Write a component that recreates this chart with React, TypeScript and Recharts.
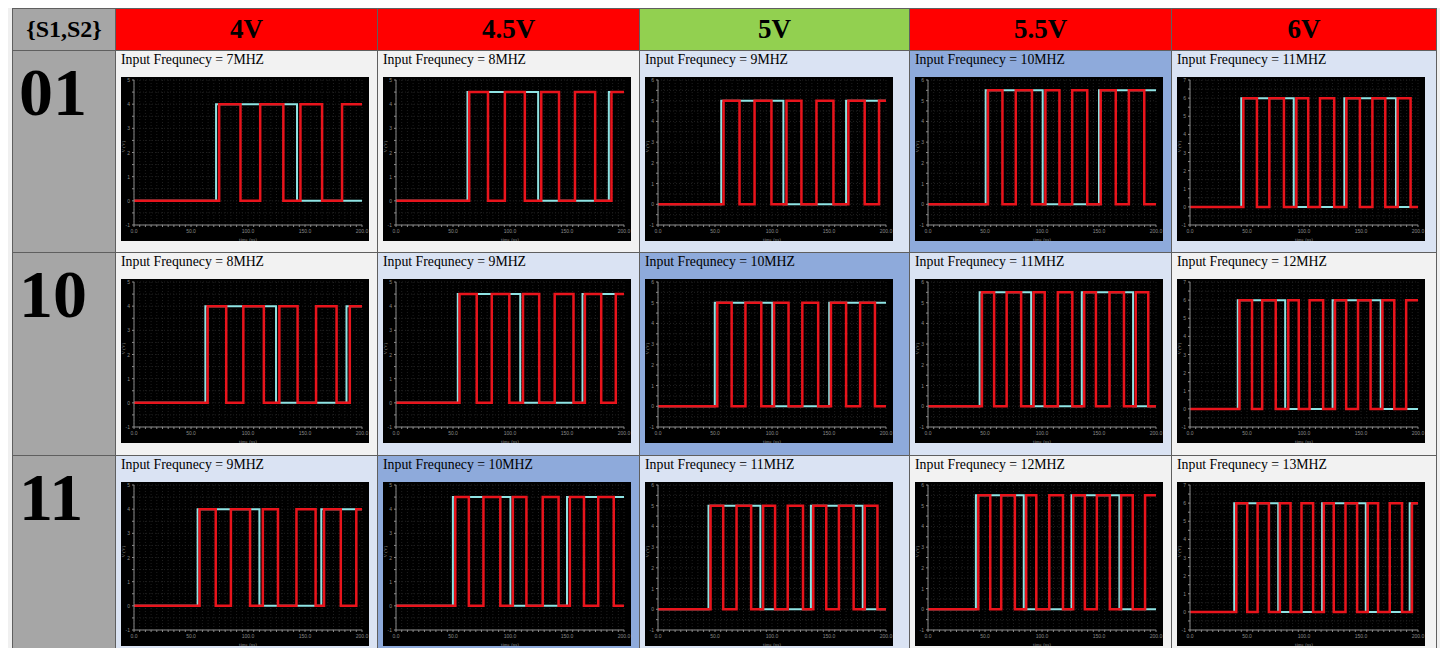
import { CartesianGrid, Line, LineChart, XAxis, YAxis } from 'recharts'

const voltages = ['4V', '4.5V', '5V', '5.5V', '6V']
const highLevels = [4, 4.5, 5, 5.5, 6]
const yTops = [5, 5, 6, 6, 7]
const headerColors = ['#ff0000', '#ff0000', '#92d050', '#ff0000', '#ff0000']
const selectCodes = ['01', '10', '11']
const frequencies = [
  [7, 8, 9, 10, 11],
  [8, 9, 10, 11, 12],
  [9, 10, 11, 12, 13],
]

const xTicks = [0, 5, 10, 15, 20, 25, 30, 35, 40, 45, 50, 55, 60, 65, 70, 75, 80, 85, 90, 95, 100,
  105, 110, 115, 120, 125, 130, 135, 140, 145, 150, 155, 160, 165, 170, 175, 180, 185, 190, 195, 200]
const yTicks5 = [-1, -0.5, 0, 0.5, 1, 1.5, 2, 2.5, 3, 3.5, 4, 4.5, 5]
const yTicks6 = [-1, -0.5, 0, 0.5, 1, 1.5, 2, 2.5, 3, 3.5, 4, 4.5, 5, 5.5, 6]
const yTicks7 = [-1, -0.5, 0, 0.5, 1, 1.5, 2, 2.5, 3, 3.5, 4, 4.5, 5, 5.5, 6, 6.5, 7]

// times (ns) where each trace toggles, both start low
const inputEdges01 = [
  [72, 143],
  [62.7, 124.7, 186.7],
  [55.5, 110, 165],
  [50.6, 100.6, 150],
  [45, 91, 135.4, 180.7],
]
const outputEdges01 = [
  [74.7, 93.4, 110.7, 131, 146, 165, 182.5],
  [64.2, 80.7, 95.5, 113, 127.4, 143, 157, 174.7, 189],
  [57.5, 71.5, 84.7, 99.5, 112.7, 125.8, 139, 153.9, 167, 181.3, 193.9],
  [52.6, 65.3, 77, 91.2, 103, 115.3, 126.5, 139.7, 151.5, 164.7, 176.2, 189.7],
  [46.8, 58.7, 69.6, 82.4, 93.3, 103.7, 114, 126.5, 137.2, 149, 160, 171.3, 182.2, 193.5],
]
const inputEdges10 = [
  [62.6, 124.6, 186.4],
  [54.2, 109, 163.6],
  [49.8, 100.3, 150.2],
  [45.3, 90.5, 134.9, 179.9],
  [41.9, 83.5, 125.1, 167.3],
]
const outputEdges10 = [
  [64.6, 80.9, 95.9, 113.9, 127.5, 143.5, 159.7, 177.7, 189.3],
  [55.7, 70.8, 84, 99.4, 111.4, 125.6, 139.2, 155.7, 165.7, 180, 192.8],
  [52, 64.6, 76.7, 90.6, 101.8, 114.5, 126.6, 140.5, 151.7, 165, 177.3, 190.3],
  [47.3, 58, 69, 81.7, 92.6, 102.4, 113.9, 126.6, 137, 147.3, 159.2, 171.9, 182.2, 193.2],
  [43.4, 54.4, 63.3, 75.2, 86.2, 95.4, 104.9, 116.8, 127.2, 137, 147.4, 158.4, 168.8, 179.2, 189.6],
]
const inputEdges11 = [
  [55.8, 110, 164.3],
  [49.9, 100.4, 150],
  [44.3, 89.8, 134.1, 179.6],
  [42, 84, 125.9, 167.9],
  [38.8, 77.4, 115.9, 154.2, 192.7],
]
const outputEdges11 = [
  [57.5, 71.7, 85, 101.8, 113, 126.3, 142.5, 159.3, 166.7, 181.4, 195],
  [52, 63.9, 76.7, 91.5, 102.5, 114.4, 128.7, 142.6, 152.5, 164.9, 177.4, 191],
  [46.1, 57.2, 68.9, 81.7, 92.2, 102.7, 113.8, 127.2, 136.2, 147.6, 158.7, 171.6, 181.4, 192.5],
  [44.1, 54.6, 64.2, 76.2, 86.1, 95, 106.4, 118.4, 127.4, 137.6, 148.1, 159.5, 169.4, 179.6, 190.4],
  [40.6, 50.2, 59.3, 69.2, 78.8, 88.2, 97.8, 108, 117.4, 126.1, 136.4, 146.6, 155.9, 165, 175.2, 186, 194.7],
]

const inputEdges = [inputEdges01, inputEdges10, inputEdges11]
const outputEdges = [outputEdges01, outputEdges10, outputEdges11]

const serif = '"Liberation Serif", "Times New Roman", serif'

function toSteps(edges: number[], level: number) {
  const pts = [{ t: 0, v: 0 }]
  let v = 0
  edges.forEach((e) => {
    v = v ? 0 : level
    pts.push({ t: e, v })
  })
  pts.push({ t: 200, v })
  return pts
}

function cellColor(f: number) {
  if (f === 10) return '#8eaadb'
  if (f === 9 || f === 11) return '#dae3f3'
  return '#f2f2f2'
}

function XTick(props: any) {
  const { x, y, payload } = props
  if (payload.value % 50 !== 0) return <g />
  return (
    <text x={x} y={y + 4} fontSize={5} fill="#8a8a8a" textAnchor="middle" fontFamily="Liberation Sans, sans-serif">
      {payload.value.toFixed(1)}
    </text>
  )
}

function YTick(props: any) {
  const { x, y, payload } = props
  if (!Number.isInteger(payload.value)) return <g />
  return (
    <text x={x} y={y + 2} fontSize={5} fill="#8a8a8a" textAnchor="end" fontFamily="Liberation Sans, sans-serif">
      {payload.value}
    </text>
  )
}

function Scope({ input, output, level, top }: { input: number[], output: number[], level: number, top: number }) {
  const yTicks = top === 5 ? yTicks5 : top === 6 ? yTicks6 : yTicks7
  return (
    <LineChart width={248} height={164} margin={{ top: 3, right: 7, bottom: 0, left: 0 }} style={{ background: '#000' }}>
      <CartesianGrid stroke="#1f1f1f" strokeDasharray="1 2" />
      <XAxis
        type="number"
        dataKey="t"
        domain={[0, 200]}
        ticks={xTicks}
        interval={0}
        height={16}
        tickSize={2}
        stroke="#8a8a8a"
        tick={<XTick />}
        label={{ value: 'time (ns)', position: 'insideBottom', offset: 0, fontSize: 5, fill: '#8a8a8a' }}
      />
      <YAxis
        type="number"
        dataKey="v"
        domain={[-1, top]}
        ticks={yTicks}
        interval={0}
        width={13}
        tickSize={2}
        stroke="#8a8a8a"
        tick={<YTick />}
        label={{ value: 'V (V)', angle: -90, position: 'insideLeft', offset: 2, fontSize: 5, fill: '#8a8a8a' }}
      />
      <Line
        data={toSteps(input, level)}
        dataKey="v"
        type="stepAfter"
        stroke="#8fe3e3"
        strokeWidth={2}
        dot={false}
        isAnimationActive={false}
      />
      <Line
        data={toSteps(output, level)}
        dataKey="v"
        type="stepAfter"
        stroke="#e8141c"
        strokeWidth={2.5}
        dot={false}
        isAnimationActive={false}
      />
    </LineChart>
  )
}

export default function App() {
  return (
    <div style={{ margin: -8, width: 1448, height: 656, overflow: 'hidden', background: '#f0f0f0', position: 'relative' }}>
      <div
        style={{
          position: 'absolute',
          left: 12,
          top: 8,
          display: 'grid',
          gridTemplateColumns: '102px 261px 261px 269px 261px 264px',
          gridTemplateRows: '41px 201px 202px 202px',
          gap: 1,
          padding: 1,
          background: '#5f5f5f',
          fontFamily: serif,
        }}
      >
        <div style={{ background: '#a6a6a6', fontSize: 24, fontWeight: 'bold', display: 'flex', alignItems: 'center', justifyContent: 'center' }}>
          {'{S1,S2}'}
        </div>
        {voltages.map((v, i) => (
          <div
            key={v}
            style={{ background: headerColors[i], fontSize: 27, fontWeight: 'bold', display: 'flex', alignItems: 'center', justifyContent: 'center' }}
          >
            {v}
          </div>
        ))}
        {selectCodes.map((code, r) => [
          <div key={code} style={{ background: '#a6a6a6', fontSize: 68, fontWeight: 'bold', lineHeight: '70px', paddingLeft: 6, paddingTop: 6 }}>
            {code}
          </div>,
          ...voltages.map((v, c) => (
            <div key={code + v} style={{ background: cellColor(frequencies[r][c]), position: 'relative' }}>
              <div style={{ position: 'absolute', left: 5, top: 1, fontSize: 13.8, lineHeight: '15px', whiteSpace: 'nowrap' }}>
                Input Frequnecy = {frequencies[r][c]}MHZ
              </div>
              <div style={{ position: 'absolute', left: 5, top: 26 }}>
                <Scope input={inputEdges[r][c]} output={outputEdges[r][c]} level={highLevels[c]} top={yTops[c]} />
              </div>
            </div>
          )),
        ])}
      </div>
    </div>
  )
}
